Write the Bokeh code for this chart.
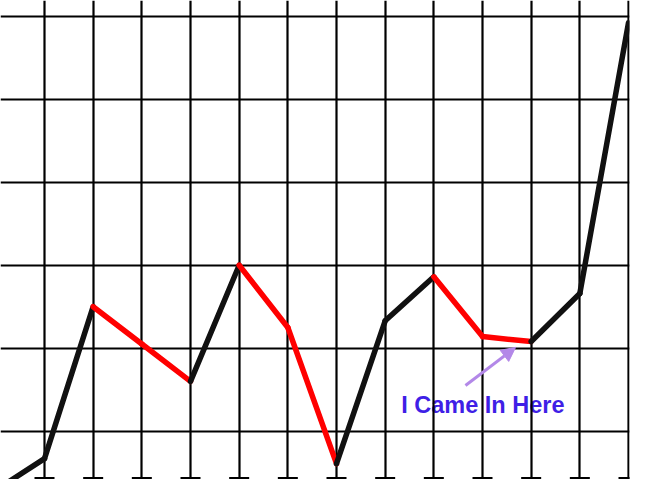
from bokeh.plotting import figure
from bokeh.models import Arrow, NormalHead, Range1d
from bokeh.core.properties import value
from bokeh.embed import file_html
from bokeh.resources import INLINE

# ---- data ----
X = list(range(14))
VALUES = [2.9, 6.7, 25.0, 20.5, 16.0, 30.0, 22.5, 6.1, 23.3, 28.6, 21.4, 20.8, 26.6, 59.2]
X_GRID = list(range(1, 14))
Y_TICKS = [10, 20, 30, 40, 50, 60]
LABEL = "I Came In Here"
LABEL_POS = (8.33, 13.1)
ARROW_FROM = (9.65, 15.5)
ARROW_TO = (10.68, 20.1)

# ---- layout (page pixel -> data mapping) ----
OFF = 0
FW, FH = 672, 479
XSTEP, X1PX = 48.667, 44.0
YSTEP, Y10PX = 8.3, 430.7

def kx(px):
    return (px - X1PX) / XSTEP + 1

def vy(py):
    return 10 + (Y10PX - py) / YSTEP

FRAME_RIGHT = 629
p = figure(width=FW, height=FH, output_backend="svg", toolbar_location=None,
           x_range=Range1d(kx(OFF), kx(FRAME_RIGHT)),
           y_range=Range1d(vy(OFF + FH), vy(OFF)),
           min_border_left=0, min_border_top=0, min_border_bottom=0,
           min_border_right=FW - (FRAME_RIGHT - OFF))
p.axis.visible = False
p.grid.visible = False
p.outline_line_color = None
p.background_fill_color = "white"
p.border_fill_color = "white"

# label (under grid lines)
p.text(x=[LABEL_POS[0]], y=[LABEL_POS[1]], text=[LABEL],
       text_font=value("Liberation Sans"), text_font_style="bold",
       text_font_size="23.5px", text_color="#3F1FE6",
       text_align="left", text_baseline="alphabetic")

# grid
p.vspan(x=X_GRID, line_color="black", line_width=2.2)
p.hspan(y=Y_TICKS, line_color="black", line_width=2.2)

# bottom tick marks
p.scatter(x=X_GRID, y=[vy(OFF + FH - 1.5)] * len(X_GRID), marker="dash",
          size=20, line_color="black", line_width=2)

# data line: red when falling, black when rising
x0, x1 = X[:-1], X[1:]
y0, y1 = VALUES[:-1], VALUES[1:]
cols = ["#FF0000" if b < a else "#111111" for a, b in zip(y0, y1)]
p.segment(x0=x0, y0=y0, x1=x1, y1=y1, line_color=cols, line_width=5.5,
          line_cap="round")

p.add_layout(Arrow(end=NormalHead(size=14, fill_color="#B388E8", line_color="#B388E8"),
                   x_start=ARROW_FROM[0], y_start=ARROW_FROM[1],
                   x_end=ARROW_TO[0], y_end=ARROW_TO[1],
                   line_color="#B388E8", line_width=3))

open("out.html", "w").write(file_html(p, INLINE))
